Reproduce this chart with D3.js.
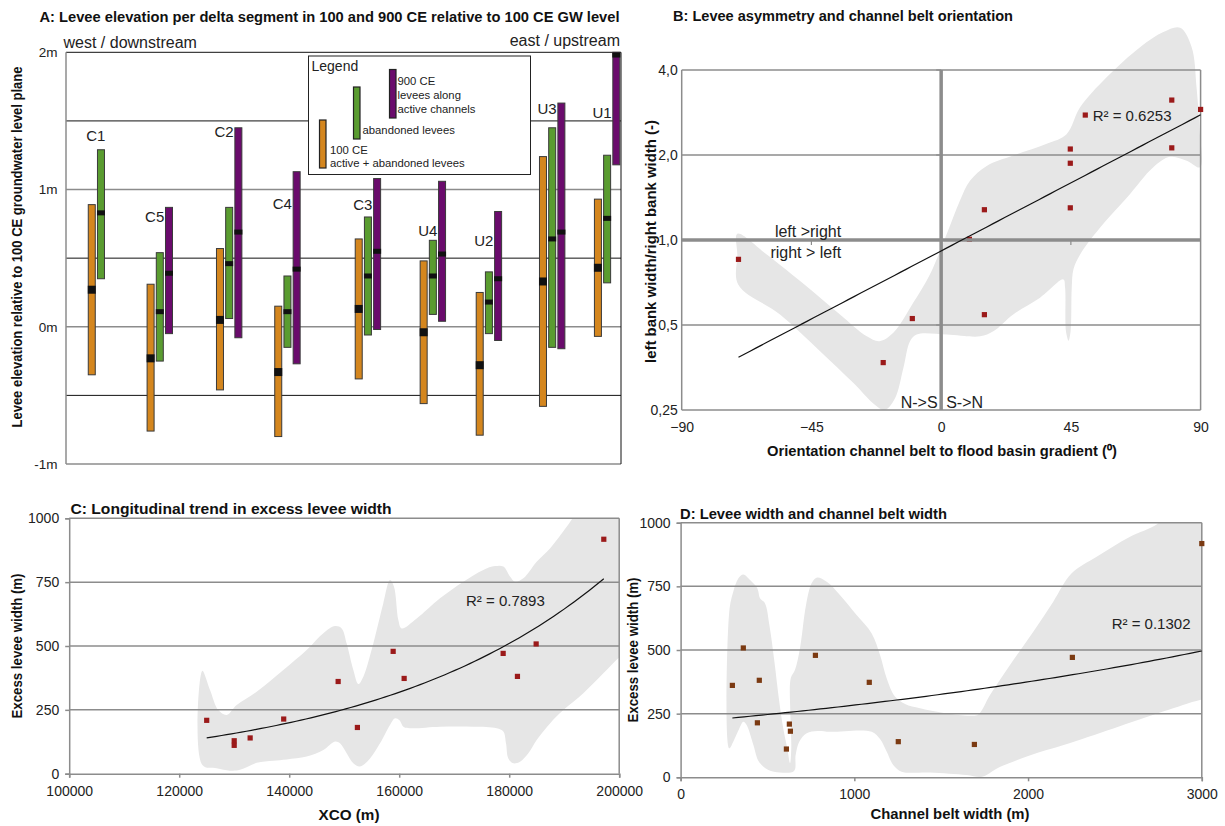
<!DOCTYPE html>
<html>
<head>
<meta charset="utf-8">
<script src="https://cdn.jsdelivr.net/npm/d3@7"></script>
<style>
  html, body { margin: 0; padding: 0; background: #fff; }
  svg { display: block; font-family: "Liberation Sans", Arial, Helvetica, sans-serif; }
  .ttl { font-weight: bold; font-size: 14px; fill: #111; }
  .axt { font-weight: bold; font-size: 14px; fill: #111; }
  .tick text { fill: #222; }
</style>
</head>
<body>
<div id="chart"></div>
<script>
// ---------- panel A : levee elevation per segment ----------
const segNames  = ['C1', 'C5', 'C2', 'C4', 'C3', 'U4', 'U2', 'U3', 'U1'];
const segPos    = [6.3, 16.9, 29.4, 39.9, 54.4, 66.1, 76.2, 87.6, 97.5];   // % west -> east
const segLabelY = [1.39, 0.80, 1.42, 0.90, 0.89, 0.70, 0.63, 1.59, 1.56];  // m, label height
// [low, high, median] in m relative to 100 CE groundwater level
const ce100 = [[-0.35, 0.89, 0.27], [-0.76, 0.31, -0.23], [-0.46, 0.57, 0.05], [-0.80, 0.15, -0.33],
  [-0.38, 0.64, 0.13], [-0.56, 0.48, -0.04], [-0.79, 0.25, -0.28], [-0.58, 1.24, 0.33], [-0.07, 0.93, 0.43]];
const abandoned = [[0.35, 1.29, 0.83], [-0.25, 0.54, 0.11], [0.06, 0.87, 0.46], [-0.15, 0.37, 0.11],
  [-0.06, 0.80, 0.37], [0.09, 0.63, 0.37], [-0.05, 0.40, 0.18], [-0.15, 1.45, 0.64], [0.32, 1.25, 0.79]];
const ce900 = [null, [-0.05, 0.87, 0.39], [-0.08, 1.45, 0.69], [-0.27, 1.13, 0.42],
  [-0.02, 1.08, 0.55], [0.04, 1.06, 0.53], [-0.10, 0.84, 0.35], [-0.16, 1.63, 0.69], [1.18, 2.00, 1.98]];
const aTicks = [2, 1, 0, -1];
const aGridLines = [2, 1.5, 1, 0.5, 0, -0.5, -1];

// ---------- panel B : asymmetry vs orientation ----------
const orientDeg = [50, 80, 90, 44.8, 80, 44.8, 15, 44.8, 9.8, -70.3, -10, 15, -20.1];
const asymRatio = [2.77, 3.13, 2.90, 2.10, 2.12, 1.87, 1.28, 1.30, 1.006, 0.854, 0.527, 0.544, 0.368];
const bXTicks = [-90, -45, 0, 45, 90];
const bYTickVals = [0.25, 0.5, 1, 2, 4];
const bYTickLabels = ['0,25', '0,5', '1,0', '2,0', '4,0'];
// hand drawn envelope [deg, ratio]
const orientShade = [[82.9, 5.64], [86.9, 4.82], [88.6, 3.47], [89.6, 2.50], [89.8, 1.81], [85.2, 1.91], [79.4, 1.97],
  [73.6, 1.81], [64.4, 1.41], [55.1, 1.106], [48.2, 0.889], [45.9, 0.787], [45.3, 0.677], [44.9, 0.475], [44.2, 0.44],
  [43.3, 0.475], [43.0, 0.677], [42.4, 0.725], [34.3, 0.624], [25.0, 0.545], [18.1, 0.475], [13.5, 0.456], [1.9, 0.463],
  [-8.5, 0.463], [-10.8, 0.438], [-13.1, 0.352], [-16.0, 0.275], [-19.5, 0.25], [-23.0, 0.261], [-30.5, 0.312],
  [-42.0, 0.404], [-55.9, 0.545], [-70.4, 0.696], [-70.7, 0.889], [-70.7, 1.053], [-60.5, 0.889], [-46.7, 0.686],
  [-35.1, 0.545], [-25.8, 0.456], [-21.4, 0.438], [-16.6, 0.469], [-9.7, 0.599], [-3.9, 0.755], [1.9, 1.047],
  [6.5, 1.376], [10.0, 1.62], [15.8, 1.83], [25.0, 1.99], [36.6, 2.19], [43.5, 2.37], [48.2, 2.95], [57.4, 3.77],
  [69.0, 4.82], [77.1, 5.45]];

// ---------- panels C and D : excess levee width ----------
const xco         = [125000, 130000, 130000, 132900, 139000, 148900, 152400, 158900, 160900, 178900, 181500, 184900, 197200];
const excessWidth = [209, 129, 111, 140, 214, 361, 181, 479, 373, 471, 381, 508, 918];
const beltWidth   = [626, 1691, 609, 1253, 442, 298, 632, 776, 1086, 2255, 453, 361, 3000];
const cXTicks = [100000, 120000, 140000, 160000, 180000, 200000];
const wYTicks = [0, 250, 500, 750, 1000];
const dXTicks = [0, 1000, 2000, 3000];
const xcoShade = [[124206, 403], [125600, 328], [127116, 249], [128631, 230], [130449, 269], [134085, 321],
  [138934, 406], [143176, 484], [146206, 550], [148328, 578], [149540, 569], [150449, 510], [151661, 406],
  [152570, 351], [153479, 380], [155297, 510], [157115, 667], [158328, 758], [159055, 732], [159843, 602],
  [160449, 569], [163176, 608], [167419, 687], [171661, 752], [175297, 798], [177418, 813], [178934, 811],
  [180146, 772], [181055, 752], [182570, 765], [184994, 830], [187418, 882], [190449, 967], [192267, 1019],
  [194691, 1060], [202000, 1060], [202000, 484], [200146, 458], [197116, 393], [193479, 315], [189843, 249],
  [187418, 197], [184994, 132], [183479, 80], [181964, 47], [180752, 41], [179843, 60], [179418, 119],
  [178934, 165], [177722, 178], [173479, 184], [167419, 184], [161964, 178], [160752, 184], [160025, 210],
  [159237, 217], [158328, 191], [156510, 119], [154691, 60], [152873, 28], [151661, 41], [150449, 80],
  [149237, 119], [148328, 126], [146206, 93], [143176, 67], [139540, 56], [137116, 51], [134085, 43],
  [131055, 15], [129237, 12], [126812, 21], [124206, 34]];
const beltShade = [[280, 114], [280, 650], [303, 729], [332, 781], [361, 797], [400, 775], [442, 742], [457, 703],
  [486, 683], [511, 598], [540, 454], [568, 297], [591, 192], [614, 114], [630, 55], [637, 114], [632, 245],
  [634, 389], [658, 421], [687, 506], [722, 677], [754, 762], [783, 784], [841, 768], [917, 716], [1013, 637],
  [1100, 565], [1148, 480], [1186, 389], [1234, 317], [1292, 288], [1378, 271], [1531, 251], [1666, 242],
  [1714, 247], [1781, 323], [1896, 441], [2030, 572], [2145, 690], [2251, 801], [2395, 866], [2587, 945],
  [2740, 993], [2836, 1056], [3070, 1056], [3070, 310], [2990, 304], [2777, 258], [2491, 192], [2205, 127],
  [2013, 87], [1821, 35], [1735, 2], [1647, 9], [1436, 19], [1272, 22], [1224, 48], [1186, 101], [1148, 150],
  [1100, 179], [860, 179], [787, 182], [726, 173], [683, 140], [662, 87], [653, 25], [572, 19], [505, 29],
  [451, 61], [419, 127], [380, 205], [361, 218], [338, 192], [307, 146]];

// ===============================
const GRID = '#8c8c8c';
const SHADE = '#e6e6e6';
const RED = '#9b1a1a';
const BROWN = '#7b3a12';

const svg = d3.select('#chart').append('svg').attr('width', 1225).attr('height', 826);

// exponential least squares fit (as excel trendline: ln y = ln a + b x)
function fitExp(xs, ys) {
  const ly = ys.map(Math.log);
  const mx = d3.mean(xs), my = d3.mean(ly);
  const b = d3.sum(xs, (x, i) => (x - mx) * (ly[i] - my)) / d3.sum(xs, (x) => (x - mx) ** 2);
  const a = Math.exp(my - b * mx);
  return (x) => a * Math.exp(b * x);
}
function trendPts(xs, ys) {
  const f = fitExp(xs, ys);
  const [x0, x1] = d3.extent(xs);
  return d3.range(81).map((k) => { const x = x0 + (x1 - x0) * k / 80; return [x, f(x)]; });
}
function hline(g, x1, x2, y, col, w) {
  g.append('line').attr('x1', x1).attr('x2', x2).attr('y1', y).attr('y2', y)
    .attr('stroke', col).attr('stroke-width', w);
}
function vline(g, x, y1, y2, col, w) {
  g.append('line').attr('x1', x).attr('x2', x).attr('y1', y1).attr('y2', y2)
    .attr('stroke', col).attr('stroke-width', w);
}
function squares(g, xs, ys, x, y, col) {
  g.append('g').selectAll('rect').data(xs).join('rect')
    .attr('x', (d) => x(d) - 2.6).attr('y', (d, i) => y(ys[i]) - 2.6)
    .attr('width', 5.2).attr('height', 5.2).attr('fill', col);
}
// bold title text, stretched to the width it has in the figure
function boldText(g, cls, str, len, attrs) {
  const t = g.append('text').attr('class', cls).attr('textLength', len).attr('lengthAdjust', 'spacingAndGlyphs').text(str);
  Object.entries(attrs).forEach(([k, v]) => t.attr(k, v));
  return t;
}

// ===============================
// A
// ===============================
{
  const P = { l: 66, r: 621, t: 52.3, b: 464 };
  const x = d3.scaleLinear().domain([0, 100]).range([P.l, P.r]);
  const y = d3.scaleLinear().domain([-1, 2]).range([P.b, P.t]);
  const g = svg.append('g');

  aGridLines.forEach((v) => {
    const major = Number.isInteger(v) && v !== 2;
    hline(g, P.l, P.r, y(v), major ? GRID : '#111', major ? 1.6 : 1);
  });
  vline(g, P.l, P.t, P.b, GRID, 1.5);
  vline(g, P.r, P.t, P.b, '#111', 1);

  g.append('g').attr('transform', `translate(${P.l},0)`)
    .call(d3.axisLeft(y).tickValues(aTicks).tickSize(0).tickPadding(8.5).tickFormat((d) => d + 'm'))
    .call((s) => s.select('.domain').remove())
    .call((s) => s.selectAll('text').attr('font-size', 13.5).attr('font-family', null));

  const series = [
    { data: ce100, color: '#d4861e', off: -9.2, medH: 8 },
    { data: abandoned, color: '#5a9c30', off: 0, medH: 5 },
    { data: ce900, color: '#6a0b6c', off: 9.2, medH: 5 },
  ];
  series.forEach((s) => {
    s.data.forEach((d, i) => {
      if (!d) return;
      const cx = x(segPos[i]) + s.off;
      g.append('rect').attr('x', cx - 3.5).attr('y', y(d[1])).attr('width', 7)
        .attr('height', y(d[0]) - y(d[1])).attr('fill', s.color).attr('stroke', '#3a3a3a').attr('stroke-width', 1);
      g.append('rect').attr('x', cx - 4).attr('y', y(d[2]) - s.medH / 2).attr('width', 8)
        .attr('height', s.medH).attr('fill', '#111');
    });
  });

  g.append('g').selectAll('text').data(segNames).join('text')
    .attr('x', (d, i) => x(segPos[i]) + 4.5).attr('y', (d, i) => y(segLabelY[i])).attr('dy', '0.35em')
    .attr('text-anchor', 'end').attr('font-size', 15).attr('fill', '#222').text((d) => d);

  // legend
  const L = g.append('g');
  L.append('rect').attr('x', 308.5).attr('y', 56).attr('width', 222).attr('height', 118.5)
    .attr('fill', '#fff').attr('stroke', '#222').attr('stroke-width', 1);
  L.append('text').attr('x', 311.5).attr('y', 70.5).attr('font-size', 14).attr('fill', '#222').text('Legend');
  [[389.5, 69.5, 118, series[2].color], [353.5, 87, 139, series[1].color], [319.5, 120, 168, series[0].color]]
    .forEach(([lx, y0, y1, c]) => {
      L.append('rect').attr('x', lx).attr('y', y0).attr('width', 6.5).attr('height', y1 - y0)
        .attr('fill', c).attr('stroke', '#222').attr('stroke-width', 1.2);
    });
  [[397.5, 84.5, '900 CE'], [397.5, 98.5, 'levees along'], [397.5, 112.5, 'active channels'],
    [362.5, 133.5, 'abandoned levees'], [330, 154, '100 CE'], [330, 167, 'active + abandoned levees']]
    .forEach(([lx, ly, t]) => L.append('text').attr('x', lx).attr('y', ly).attr('font-size', 11.3).attr('fill', '#222').text(t));

  g.append('text').attr('x', 63.5).attr('y', 47.5).attr('font-size', 16).attr('fill', '#222').text('west / downstream');
  g.append('text').attr('x', 620).attr('y', 45.5).attr('text-anchor', 'end').attr('font-size', 16).attr('fill', '#222').text('east / upstream');
  boldText(g, 'ttl', 'A: Levee elevation per delta segment in 100 and 900 CE relative to 100 CE GW level', 580,
    { x: 39.5, y: 21.5 });
  boldText(g, 'axt', 'Levee elevation relative to 100 CE groundwater level plane', 361,
    { transform: 'translate(21.5,247) rotate(-90)', 'text-anchor': 'middle', 'font-size': 11.8 });
}

// ===============================
// B
// ===============================
{
  const P = { l: 681.7, r: 1200.6, t: 70, b: 410 };
  const x = d3.scaleLinear().domain([-90, 90]).range([P.l, P.r]);
  const y = d3.scaleLog().base(2).domain([0.25, 4]).range([P.b, P.t]);
  const g = svg.append('g');

  g.append('path').datum(orientShade).attr('fill', SHADE)
    .attr('d', d3.line().x((d) => x(d[0])).y((d) => y(d[1])).curve(d3.curveCatmullRomClosed.alpha(0.5)));

  [4, 2, 0.5, 0.25].forEach((v) => hline(g, P.l, P.r, y(v), GRID, 1.5));
  vline(g, P.l, P.t, P.b, GRID, 1.5);
  vline(g, P.r, P.t, P.b, GRID, 1.5);

  squares(g, orientDeg, asymRatio, x, y, RED);

  hline(g, P.l, P.r, y(1), GRID, 3.5);
  vline(g, x(0), P.t, P.b, GRID, 3.5);
  [-45, 45].forEach((v) => vline(g, x(v), y(1), y(1) + 5, GRID, 1.2));
  [4, 2, 0.5].forEach((v) => hline(g, x(0) - 5, x(0), y(v), GRID, 1.2));

  g.append('path').datum(trendPts(orientDeg, asymRatio)).attr('fill', 'none').attr('stroke', '#111').attr('stroke-width', 1.2)
    .attr('d', d3.line().x((d) => x(d[0])).y((d) => y(d[1])));

  g.append('g').attr('transform', `translate(${P.l},0)`)
    .call(d3.axisLeft(y).tickValues(bYTickVals).tickSize(0).tickPadding(4)
      .tickFormat((d, i) => bYTickLabels[i]))
    .call((s) => s.select('.domain').remove())
    .call((s) => s.selectAll('text').attr('font-size', 14).attr('font-family', null));
  g.append('g').attr('transform', `translate(0,${P.b})`)
    .call(d3.axisBottom(x).tickValues(bXTicks).tickSize(0).tickPadding(12))
    .call((s) => s.select('.domain').remove())
    .call((s) => s.selectAll('text').attr('font-size', 14).attr('font-family', null));

  const t = (tx, ty, anchor, str) => g.append('text').attr('x', tx).attr('y', ty).attr('dy', '0.35em')
    .attr('text-anchor', anchor).attr('font-size', 16).attr('fill', '#222').text(str);
  t(x(0) - 100, y(1) - 9, 'end', 'left >right');
  t(x(0) - 100, y(1) + 12, 'end', 'right > left');
  t(x(0) - 3.5, P.b - 7.5, 'end', 'N->S');
  t(x(0) + 5, P.b - 7.5, 'start', 'S->N');
  t(1092.7, 115.5, 'start', 'R² = 0.6253').attr('font-size', 15);

  boldText(g, 'ttl', 'B: Levee asymmetry and channel belt orientation', 340, { x: 673, y: 20.5 });
  boldText(g, 'axt', 'Orientation channel belt to flood basin gradient (⁰)', 350,
    { x: 942, y: 456, 'text-anchor': 'middle' });
  boldText(g, 'axt', 'left bank width/right bank width (-)', 243,
    { transform: 'translate(655.5,241.5) rotate(-90)', 'text-anchor': 'middle', 'font-size': 13.5 });
}

// ===============================
// C and D (same frame style)
// ===============================
function widthPanel(o) {
  const P = o.P;
  const x = d3.scaleLinear().domain(o.xDomain).range([P.l, P.r]);
  const y = d3.scaleLinear().domain([0, 1000]).range([P.b, P.t]);
  const g = svg.append('g');

  g.append('clipPath').attr('id', o.clipId).append('rect')
    .attr('x', P.l).attr('y', P.t).attr('width', P.r - P.l).attr('height', P.b - P.t);
  g.append('path').datum(o.shade).attr('fill', SHADE).attr('clip-path', `url(#${o.clipId})`)
    .attr('d', d3.line().x((d) => x(d[0])).y((d) => y(d[1])).curve(d3.curveCatmullRomClosed.alpha(0.5)));

  [250, 500, 750, 1000].forEach((v) => hline(g, P.l, P.r, y(v), GRID, 1.5));
  vline(g, P.r, P.t, P.b, GRID, 1.5);

  g.append('g').attr('transform', `translate(${P.l},0)`)
    .call(d3.axisLeft(y).tickValues(wYTicks).tickSize(4).tickPadding(6).tickFormat(d3.format('d')))
    .call((s) => s.selectAll('line, path').attr('stroke', GRID).attr('stroke-width', 1.5))
    .call((s) => s.selectAll('text').attr('font-size', 14).attr('font-family', null));
  g.append('g').attr('transform', `translate(0,${P.b})`)
    .call(d3.axisBottom(x).tickValues(o.xTicks).tickSize(4).tickPadding(8).tickFormat(d3.format('d')))
    .call((s) => s.selectAll('line, path').attr('stroke', GRID).attr('stroke-width', 1.5))
    .call((s) => s.selectAll('text').attr('font-size', 14).attr('font-family', null));

  squares(g, o.xs, excessWidth, x, y, o.col);
  g.append('path').datum(trendPts(o.xs, excessWidth)).attr('fill', 'none').attr('stroke', '#111').attr('stroke-width', 1.2)
    .attr('d', d3.line().x((d) => x(d[0])).y((d) => y(d[1])));

  g.append('text').attr('x', o.r2x).attr('y', o.r2y).attr('dy', '0.35em').attr('font-size', 15).attr('fill', '#222').text(o.r2);
  boldText(g, 'ttl', o.title, o.titleLen, { x: o.titleX, y: o.titleY });
  boldText(g, 'axt', o.xTitle, o.xTitleLen, { x: o.xTitleX, y: o.xTitleY, 'text-anchor': 'middle' });
  boldText(g, 'axt', 'Excess levee width (m)', 145,
    { transform: `translate(${o.yTitleX},${(P.t + P.b) / 2}) rotate(-90)`, 'text-anchor': 'middle', 'font-size': 13.5 });
}

widthPanel({
  P: { l: 69.2, r: 619.2, t: 518.3, b: 773.7 }, xDomain: [100000, 200000], xTicks: cXTicks, xs: xco, col: RED,
  shade: xcoShade, title: 'C: Longitudinal trend in excess levee width', titleLen: 321, titleX: 70.5, titleY: 514,
  xTitle: 'XCO (m)', xTitleLen: 61, xTitleX: 349, xTitleY: 819.5, yTitleX: 21.5,
  r2: 'R² = 0.7893', r2x: 466, r2y: 601, clipId: 'clipC',
});
widthPanel({
  P: { l: 680.6, r: 1201.8, t: 522.7, b: 777.3 }, xDomain: [0, 3000], xTicks: dXTicks, xs: beltWidth, col: BROWN,
  shade: beltShade, title: 'D: Levee width and channel belt width', titleLen: 267, titleX: 680, titleY: 519,
  xTitle: 'Channel belt width (m)', xTitleLen: 159, xTitleX: 950, xTitleY: 818.5, yTitleX: 638,
  r2: 'R² = 0.1302', r2x: 1111.7, r2y: 624, clipId: 'clipD',
});
</script>
</body>
</html>
